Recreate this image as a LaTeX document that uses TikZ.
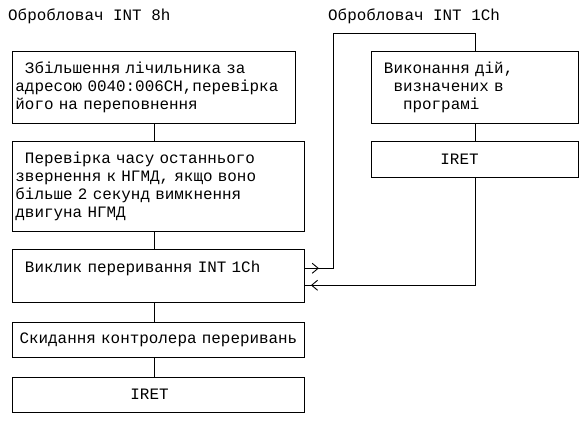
\documentclass[tikz,border=0pt]{standalone}
\usepackage{fontspec}
\setmonofont{Liberation Mono}
\usetikzlibrary{positioning,arrows.meta,decorations.markings}
\newcommand{\chsp}{\hspace*{0.6em}}

\begin{document}
\begin{tikzpicture}[
    x=1pt, y=-1pt,
    font=\ttfamily\fontsize{15.9}{18.3}\selectfont,
    node distance=17pt,
    title/.style={anchor=west, inner sep=0pt},
    box/.style={rectangle, draw, line width=0.9pt, inner xsep=3pt, inner ysep=0pt, align=left},
    leftbox/.style={box, text width=286pt},
    rightbox/.style={box, text width=201pt},
    link/.style={line width=0.9pt},
    callline/.style={link, postaction={decorate}, decoration={markings, mark=at position 14pt with {\arrow{Straight Barb[length=6pt,width=10pt]}}}},
    retline/.style={link, postaction={decorate}, decoration={markings, mark=at position -6pt with {\arrow{Straight Barb[length=6pt,width=10pt]}}}}
]
\useasboundingbox (0,0) rectangle (585,421);

% Titles
\node[title] (title8) at (8,16) {Обробловач INT 8h};
\node[title] (title1c) at (328,16) {Обробловач INT 1Ch};

% INT 8h handler
\node[box, text width=277pt, minimum height=72pt, anchor=north west] (count) at (12,51) {\chsp Збільшення лічильника за\\адресою 0040:006CH,перевірка\\його на переповнення};
\node[leftbox, minimum height=90pt, below=17pt of count.south west, anchor=north west] (floppy) {\chsp Перевірка часу останнього\\звернення к НГМД, якщо воно\\більше 2 секунд вимкнення\\двигуна НГМД};
\node[leftbox, minimum height=53pt, below=of floppy] (call) {\chsp Виклик переривання INT 1Ch\\ \mbox{}};
\node[leftbox, inner xsep=1pt, text width=290pt, align=center, minimum height=35pt, below=19pt of call] (reset) {Скидання контролера переривань};
\node[leftbox, minimum height=35pt, below=19pt of reset] (iret8) {\hspace*{115pt}IRET};

% INT 1Ch handler
\node[rightbox, minimum height=72pt, anchor=north west] (user) at (371,51) {\chsp Виконання дій,\\\chsp\chsp визначених в\\\chsp\chsp\chsp програмі};
\node[rightbox, minimum height=36pt, below=of user] (iret1c) {\hspace*{66pt}IRET};

% Links
\draw[link] (count.south) -- (count.south |- floppy.north);
\draw[link] (count.south |- floppy.south) -- (count.south |- call.north);
\draw[link] (count.south |- call.south) -- (count.south |- reset.north);
\draw[link] (count.south |- reset.south) -- (count.south |- iret8.north);
\draw[link] (user) -- (iret1c);

% Call and return
\coordinate (calltop) at (333,33);
\draw[callline] ([yshift=7.5pt]call.east) -- ([yshift=7.5pt]call.east -| calltop) -- (calltop) -| (user.north);
\draw[retline] (iret1c.south) |- ([yshift=-9.5pt]call.east);

\end{tikzpicture}
\end{document}
